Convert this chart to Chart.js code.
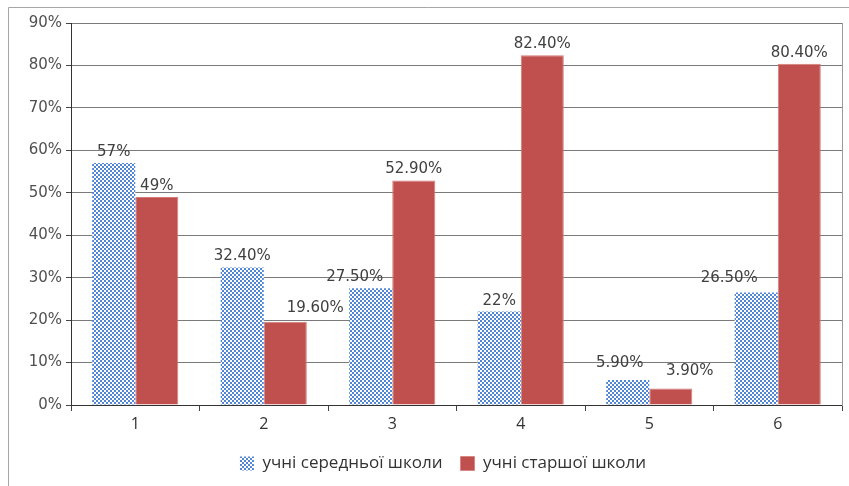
<!DOCTYPE html>
<html>
<head>
<meta charset="utf-8">
<script src="https://cdn.jsdelivr.net/npm/chart.js@4.4.1/dist/chart.umd.min.js"></script>
<style>
  html, body { margin: 0; padding: 0; background: #fff; }
  #wrap { position: relative; width: 849px; height: 486px; }
</style>
</head>
<body>
<div id="wrap"><canvas id="school_chart" width="849" height="486"></canvas></div>
<script>
const categories = ['1', '2', '3', '4', '5', '6'];
const seriesNames = ['учні середньої школи', 'учні старшої школи'];
const middleSchool = [57, 32.4, 27.5, 22, 5.9, 26.5];
const highSchool = [49, 19.6, 52.9, 82.4, 3.9, 80.4];
const yTicks = [0, 10, 20, 30, 40, 50, 60, 70, 80, 90];

// label nudges (px) where labels were moved off the bars
const labelShift = [
    [[0, 0], [0, 0], [-16, 0], [0, 0], [-8, -6], [-27, -3]],
    [[0, 0], [30, -3], [0, 0], [0, 0], [19, -6], [0, 0]]
];

function makeChecker(){
    const c = document.createElement('canvas');
    c.width = 4; c.height = 4;
    const g = c.getContext('2d');
    g.fillStyle = '#ffffff';
    g.fillRect(0, 0, 4, 4);
    g.fillStyle = '#5085d8';
    g.fillRect(0, 0, 2, 2);
    g.fillRect(2, 2, 2, 2);
    return g.createPattern(c, 'repeat');
}

function pct(v){
    return Number.isInteger(v) ? v + '%' : v.toFixed(2) + '%';
}

const frame = {
    id: 'frame',
    beforeDraw(chart){
        const ctx = chart.ctx;
        ctx.save();
        ctx.strokeStyle = '#a6a6a6';
        ctx.lineWidth = 1;
        ctx.beginPath();
        ctx.moveTo(8.5, 486);
        ctx.lineTo(8.5, 7.5);
        ctx.lineTo(849, 7.5);
        ctx.stroke();
        ctx.restore();
    }
};

// legend sits a little right of the canvas centre
const legendNudge = {
    id: 'legendNudge',
    afterLayout(chart){
        if(chart.legend){
            chart.legend.left += 17;
            chart.legend.right += 17;
        }
    }
};

const valueLabels = {
    id: 'valueLabels',
    afterDatasetsDraw(chart){
        const ctx = chart.ctx;
        ctx.save();
        ctx.font = '15px "DejaVu Sans"';
        ctx.fillStyle = '#404040';
        ctx.textAlign = 'center';
        ctx.textBaseline = 'middle';
        chart.data.datasets.forEach((ds, di) => {
            chart.getDatasetMeta(di).data.forEach((bar, i) => {
                const s = labelShift[di][i];
                ctx.fillText(pct(ds.data[i]), bar.x + s[0], bar.y - 11 + s[1]);
            });
        });
        ctx.restore();
    }
};

new Chart(document.getElementById('school_chart'), {
    type: 'bar',
    data: {
        labels: categories,
        datasets: [{
            label: seriesNames[0],
            data: middleSchool,
            backgroundColor: makeChecker(),
            borderWidth: 0
        }, {
            label: seriesNames[1],
            data: highSchool,
            backgroundColor: '#c0504d',
            borderColor: '#d37b78',
            borderWidth: {left: 1, right: 1, top: 1, bottom: 0}
        }]
    },
    options: {
        responsive: false,
        animation: false,
        events: [],
        categoryPercentage: 0.67,
        barPercentage: 1,
        layout: {
            padding: {left: 10, top: 23, right: 7, bottom: 4}
        },
        plugins: {
            tooltip: {enabled: false},
            legend: {
                position: 'bottom',
                labels: {
                    font: {family: '"Open Sans"', size: 17},
                    color: '#333',
                    boxWidth: 14,
                    boxHeight: 14,
                    padding: 18
                }
            }
        },
        scales: {
            x: {
                grid: {
                    offset: true,
                    drawOnChartArea: false,
                    tickLength: 6,
                    tickColor: '#444'
                },
                border: {color: '#333'},
                ticks: {
                    font: {family: '"Open Sans"', size: 16},
                    color: '#333',
                    padding: 4
                },
                afterFit(axis){ axis.height = 32; }
            },
            y: {
                min: 0,
                max: 90,
                afterBuildTicks(axis){ axis.ticks = yTicks.map(v => ({value: v})); },
                grid: {
                    color: '#7a7a7a',
                    tickLength: 5,
                    tickColor: '#444'
                },
                border: {color: '#333'},
                ticks: {
                    font: {family: '"DejaVu Sans"', size: 15},
                    color: '#505050',
                    padding: 4,
                    callback: v => v + '%'
                },
                afterFit(axis){ axis.width = 61; }
            },
            y2: {
                position: 'right',
                min: 0,
                max: 90,
                grid: {drawOnChartArea: false, drawTicks: false},
                border: {color: '#9a9a9a'},
                ticks: {display: false},
                afterFit(axis){ axis.width = 0; }
            }
        }
    },
    plugins: [frame, legendNudge, valueLabels]
});
</script>
</body>
</html>
